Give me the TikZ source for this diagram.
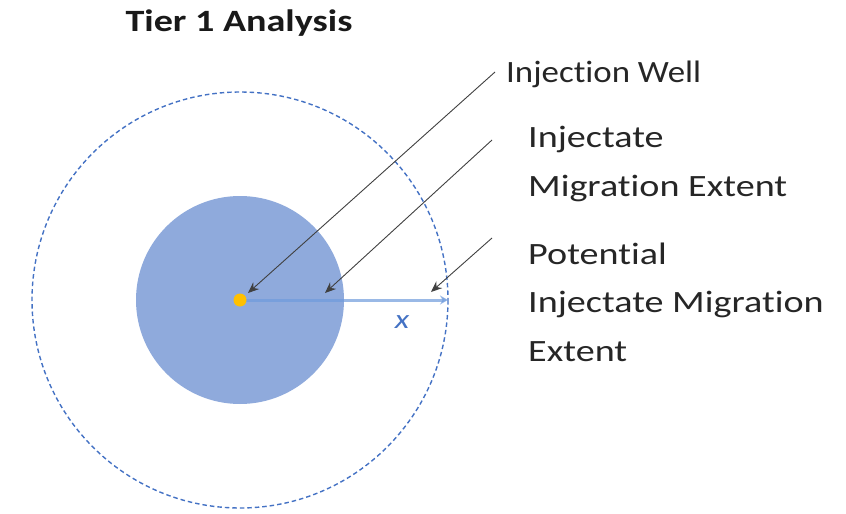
\documentclass[tikz,border=0pt]{standalone}
\usepackage{fontspec}
\setmainfont[FakeStretch=1.23, Ligatures=NoCommon]{Carlito}
\newfontfamily\tightfont[FakeStretch=1.125, Ligatures=NoCommon]{Carlito}
\usetikzlibrary{arrows.meta}
\definecolor{plume}{HTML}{8FAADC}
\definecolor{rim}{HTML}{4472C4}
\definecolor{wellc}{HTML}{FFC000}
\definecolor{radc}{HTML}{6F9BDC}
\definecolor{leader}{HTML}{404040}
\tikzset{
  lbl/.style={anchor=west, align=left, inner sep=0pt, font=\fontsize{31}{48.5}\selectfont, text=black!85},
  lead/.style={leader, line width=0.9pt, -{Stealth[length=11pt,width=9pt]}},
}
\begin{document}
\begin{tikzpicture}[x=1pt,y=-1pt]
\useasboundingbox (0,0) rectangle (846,514);
% zones
\coordinate (well) at (240,300);
\fill[plume] (well) circle (104);
\draw[rim, line width=1.4pt, dash pattern=on 4.5pt off 3pt] (well) circle (208);
% radius of potential extent
\coordinate (edge) at (448,300);
\draw[radc, line width=3pt, opacity=0.7, -{Stealth[length=8pt,width=9pt]}] (well) -- (edge);
\node[text=rim, font=\fontsize{27}{30}\selectfont\itshape] (xlab) at (402,322) {x};
\fill[wellc] (well) circle (6.5);
% title
\node[font=\fontsize{31}{34}\selectfont\bfseries, text=black!90] (title) at (239,23) {Tier 1 Analysis};
% labels
\node[lbl, font=\fontsize{31}{48.5}\selectfont\tightfont] (lwell) at (506,74) {Injection Well};
\node[lbl] (lmig) at (528,164) {Injectate\\Migration Extent};
\node[lbl] (lpot) at (528,302) {Potential\\Injectate Migration\\Extent};
% leaders
\coordinate (s1) at (495,72);
\coordinate (s2) at (492,140);
\coordinate (s3) at (492,238);
\coordinate (t1) at (248,293);
\coordinate (t2) at (325,293);
\coordinate (t3) at (431,292);
\draw[lead] (s1) -- (t1);
\draw[lead] (s2) -- (t2);
\draw[lead] (s3) -- (t3);
\end{tikzpicture}
\end{document}
